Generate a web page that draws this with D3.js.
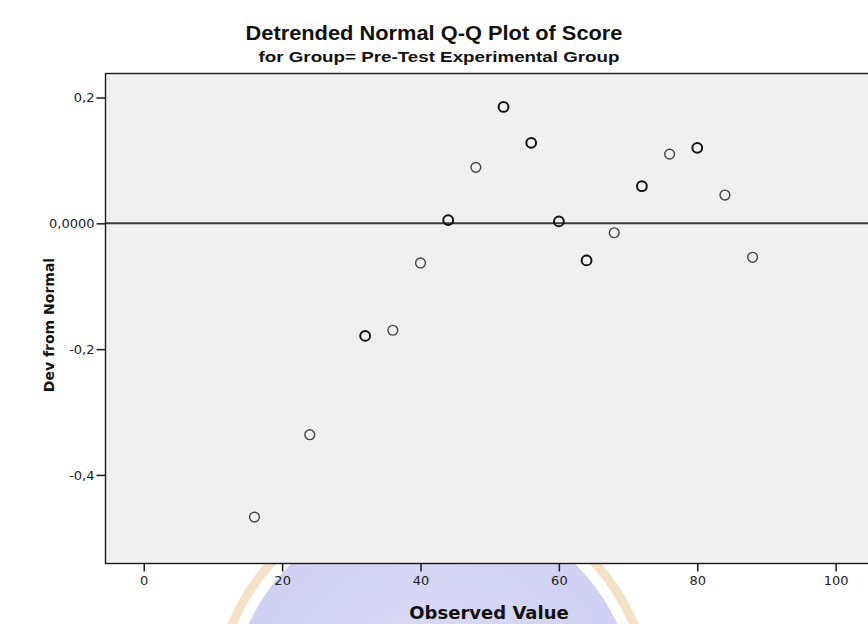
<!DOCTYPE html>
<html>
<head>
<meta charset="utf-8">
<script src="https://cdn.jsdelivr.net/npm/d3@7"></script>
<style>
  html, body { margin: 0; padding: 0; background: #ffffff; overflow: hidden; }
  svg { display: block; }
</style>
</head>
<body>
<script>
// ---- data ----
const observedValues = [16, 24, 32, 36, 40, 44, 48, 52, 56, 60, 64, 68, 72, 76, 80, 84, 88];
const devFromNormal  = [-0.467, -0.336, -0.179, -0.170, -0.063, 0.005, 0.089, 0.185, 0.128, 0.003, -0.059, -0.015, 0.059, 0.110, 0.120, 0.045, -0.054];
const caseCounts     = [1, 1, 2, 1, 1, 2, 1, 2, 2, 2, 2, 1, 2, 1, 2, 1, 1];
const xTickValues = [0, 20, 40, 60, 80, 100];
const xTickLabels = ["0", "20", "40", "60", "80", "100"];
const yTickValues = [0.2, 0, -0.2, -0.4];
const yTickLabels = ["0,2", "0,0000", "-0,2", "-0,4"];
const titleText = "Detrended Normal Q-Q Plot of Score";
const subtitleText = "for Group= Pre-Test Experimental Group";
const xLabelText = "Observed Value";
const yLabelText = "Dev from Normal";

const W = 868, H = 624;
const plot = { left: 105, top: 73, right: 873, bottom: 563 };

const svg = d3.select("body").append("svg").attr("width", W).attr("height", H);

// faint watermark logo behind the chart
const wm = svg.append("g").attr("class", "watermark");
const grad = svg.append("defs").append("radialGradient").attr("id", "wmfill")
  .attr("cx", "50%").attr("cy", "50%").attr("r", "50%");
grad.append("stop").attr("offset", "0%").attr("stop-color", "#e4e4f8");
grad.append("stop").attr("offset", "55%").attr("stop-color", "#d6d6f4");
grad.append("stop").attr("offset", "100%").attr("stop-color", "#d0d0f2");
wm.append("circle").attr("cx", 433).attr("cy", 709).attr("r", 218)
  .attr("fill", "none").attr("stroke", "#f5e2c6").attr("stroke-width", 9);
wm.append("circle").attr("cx", 433).attr("cy", 709).attr("r", 203)
  .attr("fill", "url(#wmfill)");

const x = d3.scaleLinear().domain([-5.6, 105.4]).range([plot.left, plot.right]);
const y = d3.scaleLinear().domain([-0.540, 0.239]).range([plot.bottom, plot.top]);

// plot background
svg.append("rect")
  .attr("x", plot.left).attr("y", plot.top)
  .attr("width", plot.right - plot.left).attr("height", plot.bottom - plot.top)
  .attr("fill", "#f0f0f0");

// reference line at 0
svg.append("line")
  .attr("x1", plot.left).attr("x2", plot.right)
  .attr("y1", y(0)).attr("y2", y(0))
  .attr("stroke", "#3a3a3a").attr("stroke-width", 2);

// points
const pts = observedValues.map((v, i) => ({ x: v, y: devFromNormal[i], n: caseCounts[i] }));
svg.append("g").selectAll("circle").data(pts).join("circle")
  .attr("cx", d => x(d.x)).attr("cy", d => y(d.y)).attr("r", 4.9)
  .attr("fill", "none")
  .attr("stroke", d => d.n > 1 ? "#111" : "#444")
  .attr("stroke-width", d => d.n > 1 ? 2.0 : 1.4);

// frame
svg.append("rect")
  .attr("x", plot.left + 0.5).attr("y", plot.top + 0.5)
  .attr("width", plot.right - plot.left).attr("height", plot.bottom - plot.top)
  .attr("fill", "none").attr("stroke", "#1a1a1a").attr("stroke-width", 1.4);

// axes
const xAxis = d3.axisBottom(x).tickValues(xTickValues)
  .tickFormat((d, i) => xTickLabels[i]).tickSize(8).tickPadding(4);
const gx = svg.append("g").attr("transform", `translate(0,${plot.bottom + 0.5})`).call(xAxis);
gx.select(".domain").remove();
gx.selectAll(".tick line").attr("stroke", "#1a1a1a").attr("stroke-width", 1.5);
gx.selectAll(".tick text").attr("font-family", "DejaVu Sans").attr("font-size", 13).attr("fill", "#222");

const yAxis = d3.axisLeft(y).tickValues(yTickValues)
  .tickFormat((d, i) => yTickLabels[i]).tickSize(9).tickPadding(2);
const gy = svg.append("g").attr("transform", `translate(${plot.left + 0.5},0)`).call(yAxis);
gy.select(".domain").remove();
gy.selectAll(".tick line").attr("stroke", "#1a1a1a").attr("stroke-width", 1.5);
gy.selectAll(".tick text").attr("font-family", "DejaVu Sans").attr("font-size", 13).attr("fill", "#222");

// titles
svg.append("text").attr("x", 434).attr("y", 40).attr("text-anchor", "middle")
  .attr("font-family", "Liberation Sans, Arial, sans-serif").attr("font-weight", "bold")
  .attr("font-size", 20).attr("fill", "#111")
  .attr("textLength", 377).attr("lengthAdjust", "spacingAndGlyphs").text(titleText);
svg.append("text").attr("x", 439).attr("y", 62).attr("text-anchor", "middle")
  .attr("font-family", "Liberation Sans, Arial, sans-serif").attr("font-weight", "bold")
  .attr("font-size", 15).attr("fill", "#111")
  .attr("textLength", 361).attr("lengthAdjust", "spacingAndGlyphs").text(subtitleText);

// axis labels
svg.append("text").attr("x", 489).attr("y", 619).attr("text-anchor", "middle")
  .attr("font-family", "DejaVu Sans").attr("font-weight", "bold")
  .attr("font-size", 18).attr("fill", "#111").text(xLabelText);
svg.append("text")
  .attr("transform", `translate(54,325) rotate(-90)`)
  .attr("text-anchor", "middle")
  .attr("font-family", "DejaVu Sans").attr("font-weight", "bold")
  .attr("font-size", 14).attr("fill", "#111").text(yLabelText);
</script>
</body>
</html>
